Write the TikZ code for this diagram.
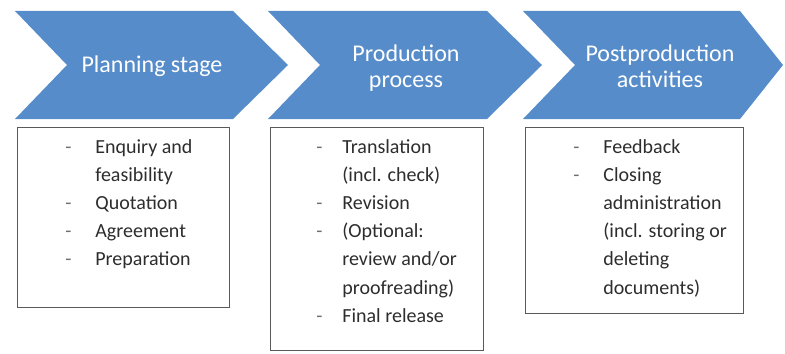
\documentclass[tikz,border=0pt]{standalone}
\usepackage{fontspec}
\setmainfont{Carlito}
\definecolor{chevblue}{RGB}{86,140,201}
\definecolor{boxline}{RGB}{90,90,90}
\definecolor{txt}{RGB}{45,45,45}
\definecolor{dashc}{RGB}{110,110,110}
\tikzset{
  chevtext/.style={text=white,align=center,font=\fontsize{12}{13}\selectfont,inner sep=0pt},
  listbox/.style={draw=boxline,line width=0.6pt,anchor=north west,inner sep=0pt},
  listtext/.style={anchor=base west,inner sep=0pt,text=txt,font=\fontsize{10}{14.1}\selectfont},
}
\newcommand{\dsh}{\textcolor{dashc}{-}}
\begin{document}
\begin{tikzpicture}[x=0.5pt,y=-0.5pt]
\useasboundingbox (0,0) rectangle (785,353);
% chevrons
\fill[chevblue] (15,11) -- (233,11) -- (288,65) -- (233,119) -- (15,119) -- (67,65) -- cycle;
\fill[chevblue] (268,11) -- (487,11) -- (542,65) -- (487,119) -- (268,119) -- (320,65) -- cycle;
\fill[chevblue] (523,11) -- (740,11) -- (783,65) -- (740,119) -- (523,119) -- (575,65) -- cycle;
\node[chevtext] (c1) at (152,66) {Planning stage};
\node[chevtext] (c2) at (406,68) {Production\\process};
\node[chevtext] (c3) at (660,66) {Postproduction\\activities};
% boxes
\node[listbox,minimum width=106pt,minimum height=90pt] (b1) at (17,127) {};
\node[listbox,minimum width=106.5pt,minimum height=111.5pt] (b2) at (270,127) {};
\node[listbox,minimum width=109pt,minimum height=93pt] (b3) at (525,127) {};
\node[listtext] (t1) at (65,153) {\begin{tabular}[t]{@{}p{15pt}@{}l@{}}
\dsh & Enquiry and\\
 & feasibility\\
\dsh & Quotation\\
\dsh & Agreement\\
\dsh & Preparation
\end{tabular}};
\node[listtext] (t2) at (316,153) {\begin{tabular}[t]{@{}p{13pt}@{}l@{}}
\dsh & Translation\\
 & (incl. check)\\
\dsh & Revision\\
\dsh & (Optional:\\
 & review and/or\\
 & proofreading)\\
\dsh & Final release
\end{tabular}};
\node[listtext] (t3) at (573,153) {\begin{tabular}[t]{@{}p{15pt}@{}l@{}}
\dsh & Feedback\\
\dsh & Closing\\
 & administration\\
 & (incl. storing or\\
 & deleting\\
 & documents)
\end{tabular}};
\end{tikzpicture}
\end{document}
